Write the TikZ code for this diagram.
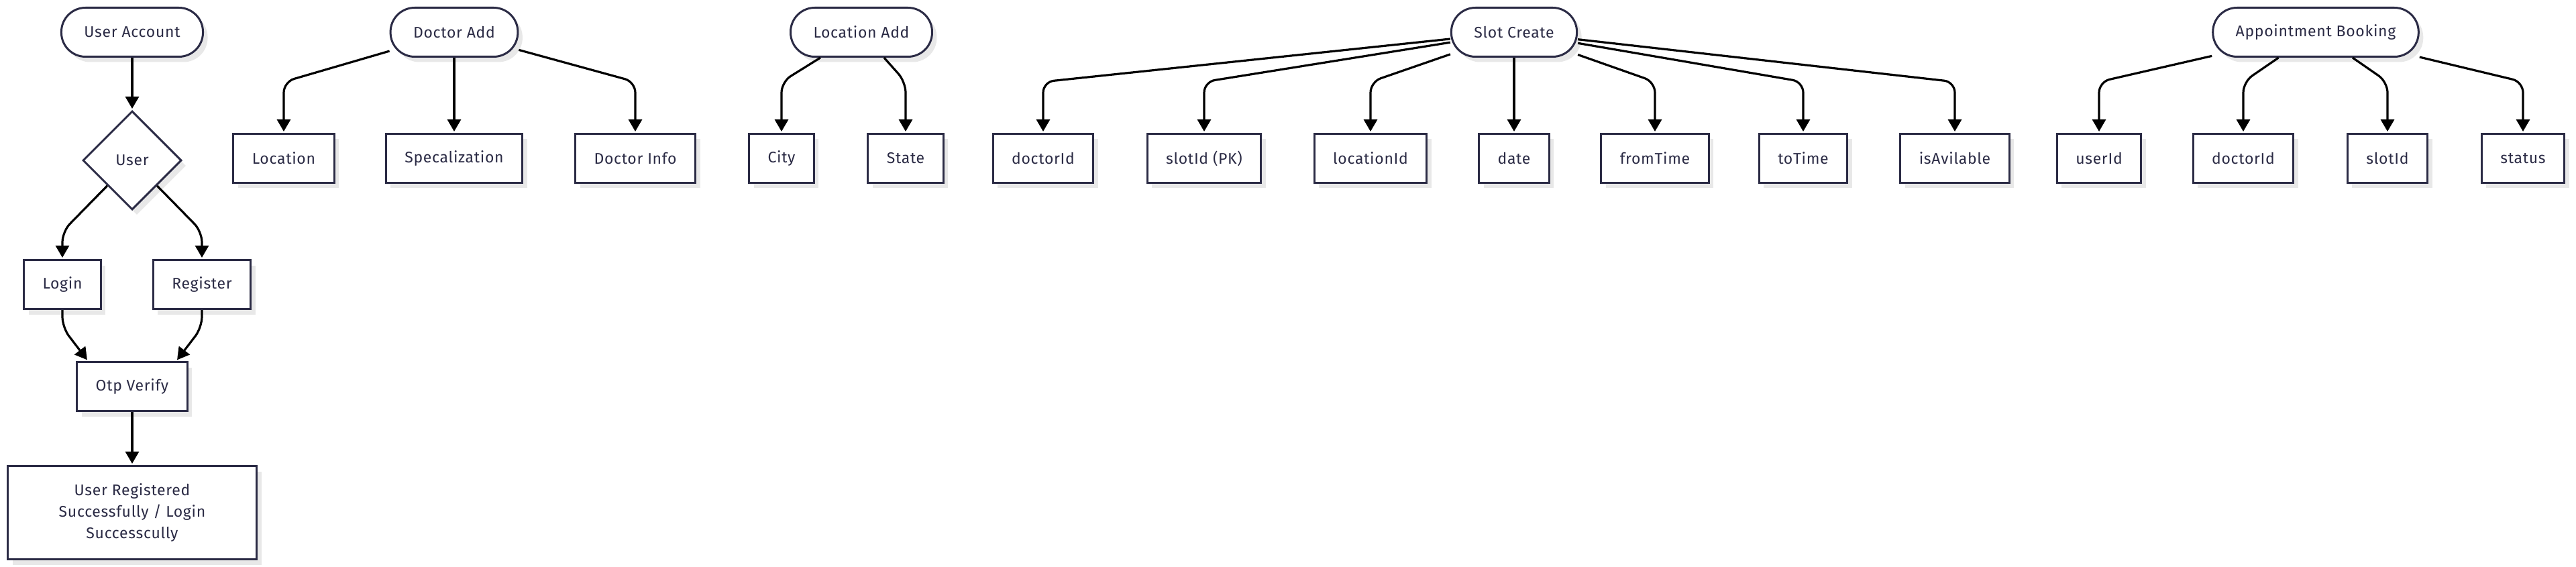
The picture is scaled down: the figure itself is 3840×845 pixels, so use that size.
\documentclass[tikz,border=0pt]{standalone}
\usepackage{fontspec}
\setmainfont[LetterSpace=3]{Fira Sans}
\usetikzlibrary{arrows.meta,positioning,shapes.geometric,shadows}
\definecolor{ink}{HTML}{2B2B45}

\begin{document}
\begin{tikzpicture}[
	x = 0.5pt, y = -0.5pt, % one unit is one pixel of the layout
	> = {Triangle[length=9pt, width=10pt]}, % arrow head style
	shorten > = 1pt, % don't touch arrow head to node
	line width = 1.6pt,
	font = \fontsize{11.5}{16}\selectfont,
	B/.style={rectangle, draw=ink, line width=1.5pt, fill=white, text=ink, minimum height=36.5pt, inner xsep=14pt,
		drop shadow={shadow xshift=3.5pt, shadow yshift=-4pt, fill=black!9, opacity=1}},  % plain box
	S/.style={B, rounded corners=18pt, inner xsep=17pt},  % stadium heading
	C/.style={B, diamond, aspect=1, minimum size=73.5pt, inner sep=0pt},  % choice
	E/.style={->, rounded corners=8pt},
	]
	\useasboundingbox (0,0) rectangle (3840,845);

	% rows where the connectors bend
	\coordinate (top) at (0,122);
	\coordinate (mid) at (0,345);
	\coordinate (low) at (0,488);

	% User Account flow
	\node[S] (UA) at (197,48) {User Account};
	\node[C] (U) [below = 39pt of UA] {User};
	\node[B] (L) at (93,424) {Login};
	\node[B] (R) at (301,424) {Register};
	\node[B] (OV) at (197,576) {Otp Verify};
	\node[B, align=center, minimum width=185.5pt, minimum height=69.5pt] (UR) [below = 39.5pt of OV]
		{User Registered\\Successfully / Login\\Successcully};

	% Doctor Add
	\node[S] (DA) at (677,48) {Doctor Add};
	\node[B] (Loc) at (423,236) {Location};
	\node[B] (Spec) at (677,236) {Specalization};
	\node[B] (DI) at (947,236) {Doctor Info};

	% Location Add
	\node[S] (LA) at (1284,48) {Location Add};
	\node[B] (City) at (1165,236) {City};
	\node[B] (St) at (1350,236) {State};

	% Slot Create
	\node[S] (SC) at (2257,48) {Slot Create};
	\node[B] (SDoc) at (1555,236) {doctorId};
	\node[B] (SId) at (1795,236) {slotId (PK)};
	\node[B] (SLoc) at (2043,236) {locationId};
	\node[B] (SDate) at (2257,236) {date};
	\node[B] (SFrom) at (2467,236) {fromTime};
	\node[B] (STo) at (2688,236) {toTime};
	\node[B] (SAv) at (2914,236) {isAvilable};

	% Appointment Booking
	\node[S] (AB) at (3452,48) {Appointment Booking};
	\node[B] (AUser) at (3129,236) {userId};
	\node[B] (ADoc) at (3344,236) {doctorId};
	\node[B] (ASlot) at (3559,236) {slotId};
	\node[B] (ASt) at (3761,236) {status};

	% Paths connecting nodes
	\path[->] (UA) edge (U);
	\draw[E] (U) -- (L |- mid) -- (L);
	\draw[E] (U) -- (R |- mid) -- (R);
	\draw[E] (L) -- (L |- low) -- (OV.150);
	\draw[E] (R) -- (R |- low) -- (OV.30);
	\path[->] (OV) edge (UR);

	\foreach \c in {Loc, Spec, DI}
		\draw[E] (DA) -- (\c |- top) -- (\c);
	\foreach \c in {City, St}
		\draw[E] (LA) -- (\c |- top) -- (\c);
	\foreach \c in {SDoc, SId, SLoc, SDate, SFrom, STo, SAv}
		\draw[E] (SC) -- (\c |- top) -- (\c);
	\foreach \c in {AUser, ADoc, ASlot, ASt}
		\draw[E] (AB) -- (\c |- top) -- (\c);

\end{tikzpicture}
\end{document}
